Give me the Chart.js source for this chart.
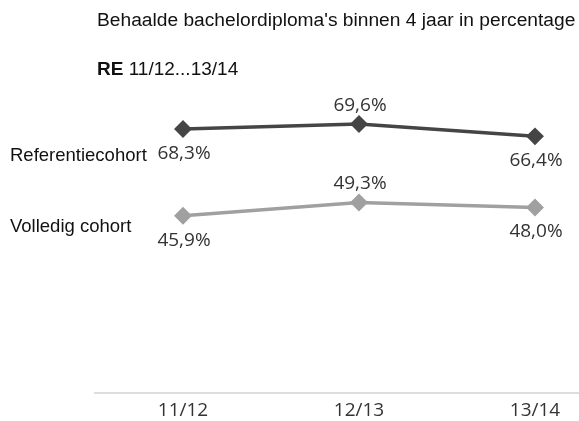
<!DOCTYPE html>
<html lang="nl">
<head>
    <meta charset="UTF-8">
    <title>Behaalde bachelordiploma's</title>
    <script src="https://cdn.jsdelivr.net/npm/chart.js"></script>
    <style>
        body { margin: 0; padding: 0; background: #fff; overflow: hidden; }
        canvas { display: block; }
    </style>
</head>
<body>
    <canvas id="myChart" width="579" height="421"></canvas>
    <script>
        const categories = ['11/12', '12/13', '13/14'];
        const seriesNames = ['Referentiecohort', 'Volledig cohort'];
        const referentie = [68.3, 69.6, 66.4];
        const volledig = [45.9, 49.3, 48.0];
        // value label above (-1) or below (+1) the point
        const refLabelSide = [1, -1, 1];
        const volLabelSide = [1, -1, 1];

        const titleText = "Behaalde bachelordiploma's binnen 4 jaar in percentage";
        const subBold = 'RE';
        const subText = ' 11/12...13/14';

        const fmt = v => v.toFixed(1).replace('.', ',') + '%';
        const sansFont = '"Liberation Sans", Arial, sans-serif';

        const overlay = {
            id: 'overlay',
            afterDatasetsDraw(chart) {
                const ctx = chart.ctx;
                ctx.save();
                // headers
                ctx.fillStyle = '#111';
                ctx.textBaseline = 'middle';
                ctx.textAlign = 'left';
                ctx.font = '19.2px ' + sansFont;
                ctx.fillText(titleText, 97, 21);
                ctx.font = 'bold 19px ' + sansFont;
                ctx.fillText(subBold, 97, 70);
                const w = ctx.measureText(subBold).width;
                ctx.font = '19px ' + sansFont;
                ctx.fillText(subText, 97 + w, 70);

                // series names + value labels
                const sides = [refLabelSide, volLabelSide];
                const nameOffset = [27, 11];
                chart.data.datasets.forEach((ds, i) => {
                    const meta = chart.getDatasetMeta(i);
                    ctx.font = '18.5px ' + sansFont;
                    ctx.fillStyle = '#111';
                    ctx.textAlign = 'left';
                    ctx.fillText(seriesNames[i], 10, meta.data[0].y + nameOffset[i]);

                    ctx.font = '19px "Open Sans", sans-serif';
                    ctx.fillStyle = '#333';
                    ctx.textAlign = 'center';
                    meta.data.forEach((pt, j) => {
                        const dy = sides[i][j] > 0 ? 24.5 : -18.5;
                        ctx.fillText(fmt(ds.data[j].y), pt.x + 1, pt.y + dy);
                    });
                });
                ctx.restore();
            }
        };

        const toPoints = arr => arr.map((v, i) => ({ x: i, y: v }));

        new Chart(document.getElementById('myChart'), {
            type: 'line',
            data: {
                datasets: [{
                    label: seriesNames[0],
                    data: toPoints(referentie),
                    borderColor: '#454545',
                    backgroundColor: '#454545',
                    borderWidth: 3.5,
                    pointStyle: 'rectRot',
                    pointRadius: 6.5,
                    pointHoverRadius: 6.5
                }, {
                    label: seriesNames[1],
                    data: toPoints(volledig),
                    borderColor: '#a0a0a0',
                    backgroundColor: '#a0a0a0',
                    borderWidth: 3.5,
                    pointStyle: 'rectRot',
                    pointRadius: 6.5,
                    pointHoverRadius: 6.5
                }]
            },
            options: {
                responsive: false,
                animation: false,
                layout: { autoPadding: false, padding: { left: 95, right: 0, top: 100, bottom: -7 } },
                plugins: {
                    legend: { display: false },
                    tooltip: { enabled: false }
                },
                scales: {
                    x: {
                        type: 'linear',
                        min: -0.5,
                        max: 2.25,
                        afterBuildTicks: axis => { axis.ticks = categories.map((c, i) => ({ value: i })); },
                        afterFit: axis => { axis.paddingLeft = 0; axis.paddingRight = 0; },
                        ticks: {
                            callback: v => categories[v],
                            color: '#333',
                            font: { family: 'Open Sans', size: 19 },
                            padding: 6
                        },
                        grid: { display: false, drawTicks: false },
                        border: { color: '#dddddd', width: 2 }
                    },
                    y: {
                        display: false,
                        min: 0,
                        max: 75.8
                    }
                }
            },
            plugins: [overlay]
        });
    </script>
</body>
</html>
